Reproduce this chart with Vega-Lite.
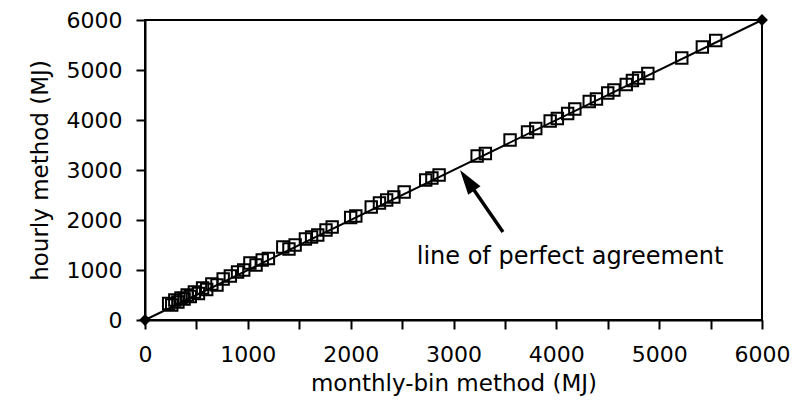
{
  "$schema": "https://vega.github.io/schema/vega-lite/v6.json",
  "width": 617,
  "height": 300,
  "autosize": "none",
  "padding": {"left": 145, "top": 20, "right": 34, "bottom": 86},
  "background": "white",
  "config": {
    "font": "DejaVu Sans",
    "view": {"stroke": "black", "strokeWidth": 2},
    "axis": {
      "grid": false,
      "domainColor": "black",
      "domainWidth": 2,
      "tickColor": "black",
      "tickWidth": 2,
      "labelColor": "black",
      "titleColor": "black",
      "labelFont": "DejaVu Sans",
      "titleFont": "DejaVu Sans",
      "labelFontSize": 22,
      "titleFontSize": 23,
      "titleFontWeight": "normal",
      "labelFlush": false,
      "labelOverlap": false
    }
  },
  "datasets": {
    "pts": [
      {"x": 230, "y": 330}, {"x": 260, "y": 300}, {"x": 290, "y": 400}, {"x": 320, "y": 360},
      {"x": 350, "y": 440}, {"x": 380, "y": 420}, {"x": 410, "y": 500}, {"x": 440, "y": 470},
      {"x": 480, "y": 560}, {"x": 520, "y": 530}, {"x": 560, "y": 640}, {"x": 600, "y": 610},
      {"x": 650, "y": 720}, {"x": 700, "y": 700}, {"x": 760, "y": 820}, {"x": 830, "y": 880},
      {"x": 900, "y": 960}, {"x": 960, "y": 1000}, {"x": 1020, "y": 1140}, {"x": 1080, "y": 1100},
      {"x": 1140, "y": 1200}, {"x": 1200, "y": 1230}, {"x": 1340, "y": 1460}, {"x": 1400, "y": 1420},
      {"x": 1460, "y": 1500}, {"x": 1560, "y": 1620}, {"x": 1620, "y": 1660}, {"x": 1680, "y": 1700},
      {"x": 1760, "y": 1800}, {"x": 1820, "y": 1860}, {"x": 2000, "y": 2050}, {"x": 2050, "y": 2080},
      {"x": 2200, "y": 2260}, {"x": 2280, "y": 2340}, {"x": 2350, "y": 2400}, {"x": 2420, "y": 2460},
      {"x": 2520, "y": 2560}, {"x": 2730, "y": 2800}, {"x": 2790, "y": 2840}, {"x": 2860, "y": 2900},
      {"x": 3230, "y": 3280}, {"x": 3310, "y": 3330}, {"x": 3550, "y": 3600}, {"x": 3720, "y": 3760},
      {"x": 3800, "y": 3830}, {"x": 3940, "y": 3980}, {"x": 4010, "y": 4030}, {"x": 4110, "y": 4130},
      {"x": 4180, "y": 4220}, {"x": 4320, "y": 4370}, {"x": 4390, "y": 4420}, {"x": 4500, "y": 4540},
      {"x": 4560, "y": 4600}, {"x": 4680, "y": 4710}, {"x": 4740, "y": 4790}, {"x": 4800, "y": 4840},
      {"x": 4890, "y": 4930}, {"x": 5220, "y": 5240}, {"x": 5420, "y": 5460}, {"x": 5550, "y": 5590}
    ],
    "diag": [{"x": 0, "y": 0}, {"x": 6000, "y": 6000}],
    "arrow": [{"x": 3481, "y": 1760, "o": 0}, {"x": 3147, "y": 2754, "o": 1}],
    "head": [{"x": 3147, "y": 2754}],
    "note": [{"x": 4133, "y": 1260, "label": "line of perfect agreement"}]
  },
  "layer": [
    {
      "data": {"name": "diag"},
      "mark": {"type": "line", "color": "black", "strokeWidth": 2},
      "encoding": {
        "x": {
          "field": "x", "type": "quantitative",
          "scale": {"domain": [0, 6000], "nice": false, "zero": false},
          "axis": {
            "title": "monthly-bin method (MJ)",
            "values": [0, 500, 1000, 1500, 2000, 2500, 3000, 3500, 4000, 4500, 5000, 5500, 6000],
            "format": "d",
            "labelExpr": "datum.value % 1000 === 0 ? datum.label : ''",
            "tickSize": 9,
            "labelPadding": 15,
            "titlePadding": 7,
            "encode": {"ticks": {"update": {"y2": {"signal": "datum.value % 1000 === 0 ? -9 : -6"}}}}
          }
        },
        "y": {
          "field": "y", "type": "quantitative",
          "scale": {"domain": [0, 6000], "nice": false, "zero": false},
          "axis": {
            "title": "hourly method (MJ)",
            "values": [0, 500, 1000, 1500, 2000, 2500, 3000, 3500, 4000, 4500, 5000, 5500, 6000],
            "format": "d",
            "labelExpr": "datum.value % 1000 === 0 ? datum.label : ''",
            "tickSize": 9,
            "labelPadding": 14,
            "titlePadding": 14,
            "encode": {"ticks": {"update": {"x2": {"signal": "datum.value % 1000 === 0 ? -9 : -6"}}}}
          }
        }
      }
    },
    {
      "data": {"name": "pts"},
      "mark": {"type": "point", "shape": "square", "filled": false, "stroke": "black", "strokeWidth": 2, "size": 130, "opacity": 1},
      "encoding": {
        "x": {"field": "x", "type": "quantitative"},
        "y": {"field": "y", "type": "quantitative"}
      }
    },
    {
      "data": {"name": "diag"},
      "mark": {"type": "point", "shape": "diamond", "filled": true, "color": "black", "size": 140, "opacity": 1},
      "encoding": {
        "x": {"field": "x", "type": "quantitative"},
        "y": {"field": "y", "type": "quantitative"}
      }
    },
    {
      "data": {"name": "arrow"},
      "mark": {"type": "line", "color": "black", "strokeWidth": 3.5},
      "encoding": {
        "x": {"field": "x", "type": "quantitative"},
        "y": {"field": "y", "type": "quantitative"},
        "order": {"field": "o"}
      }
    },
    {
      "data": {"name": "head"},
      "mark": {"type": "point", "shape": "M0,-1.2L0.6,0.8L-0.6,0.8Z", "filled": true, "color": "black", "size": 625, "angle": 325, "opacity": 1},
      "encoding": {
        "x": {"field": "x", "type": "quantitative"},
        "y": {"field": "y", "type": "quantitative"}
      }
    },
    {
      "data": {"name": "note"},
      "mark": {"type": "text", "font": "DejaVu Sans", "fontSize": 24, "align": "center", "baseline": "middle", "color": "black"},
      "encoding": {
        "x": {"field": "x", "type": "quantitative"},
        "y": {"field": "y", "type": "quantitative"},
        "text": {"field": "label"}
      }
    }
  ]
}
